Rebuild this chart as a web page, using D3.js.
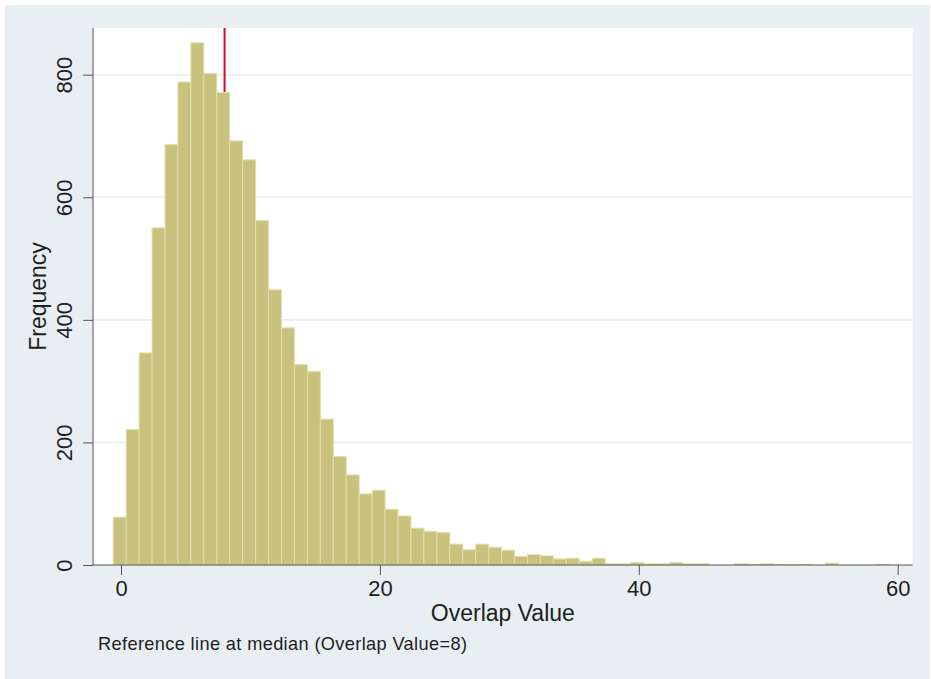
<!DOCTYPE html>
<html>
<head>
<meta charset="utf-8">
<script src="https://cdn.jsdelivr.net/npm/d3@7"></script>
<style>
  body { margin: 0; background: #fff; }
  text { font-family: "Liberation Sans", Arial, sans-serif; fill: #1e1e1e; }
</style>
</head>
<body>
<svg id="chart" width="931" height="679"></svg>
<script>
// histogram of overlap values, bins of width 1 starting at -0.6
const binStart = -0.6;
const binWidth = 1.0;
const counts = [
  78, 221, 346, 550, 686, 788, 852, 802, 771, 692,
  661, 562, 449, 387, 327, 316, 238, 177, 147, 116,
  122, 91, 80, 60, 55, 53, 34, 25, 34, 29,
  24, 14, 17, 15, 10, 11, 6, 11, 2, 2,
  4, 2, 2, 4, 2, 2, 0, 0, 2, 1,
  2, 1, 1, 1, 0, 3, 0, 0, 0, 1
];
const xTicks = [0, 20, 40, 60];
const yTicks = [0, 200, 400, 600, 800];
const medianValue = 8;
const xTitle = "Overlap Value";
const yTitle = "Frequency";
const note = "Reference line at median (Overlap Value=8)";

const svg = d3.select("#chart");
const plot = {left: 93, right: 912.7, top: 28, bottom: 565};

const x = d3.scaleLinear().domain([0, 60]).range([121, 897.7]);
const y = d3.scaleLinear().domain([0, 800]).range([565, 74.7]);

const bins = counts.map((c, i) => ({x0: binStart + i * binWidth, x1: binStart + (i + 1) * binWidth, n: c}));

// outer background
svg.append("rect")
  .attr("x", 5).attr("y", 5)
  .attr("width", 925).attr("height", 674)
  .attr("fill", "#e8eff2");

// plot region
svg.append("rect")
  .attr("x", plot.left).attr("y", plot.top)
  .attr("width", plot.right - plot.left).attr("height", plot.bottom - plot.top)
  .attr("fill", "#ffffff");

// gridlines
svg.append("g")
  .selectAll("line")
  .data(yTicks.filter(d => d > 0))
  .join("line")
  .attr("x1", plot.left).attr("x2", plot.right)
  .attr("y1", d => y(d)).attr("y2", d => y(d))
  .attr("stroke", "#e6eef2")
  .attr("stroke-width", 1.6);

// median reference line (behind bars)
svg.append("line")
  .attr("x1", x(medianValue)).attr("x2", x(medianValue))
  .attr("y1", plot.top).attr("y2", y(0))
  .attr("stroke", "#c8102e")
  .attr("stroke-width", 2);

// bars
svg.append("g")
  .selectAll("rect")
  .data(bins)
  .join("rect")
  .attr("x", d => x(d.x0))
  .attr("width", d => x(d.x1) - x(d.x0))
  .attr("y", d => y(d.n))
  .attr("height", d => y(0) - y(d.n))
  .attr("fill", "#c9c27f")
  .attr("stroke", "#e3dfaa")
  .attr("stroke-width", 1);

// y axis
const yAxis = svg.append("g")
  .attr("transform", `translate(${plot.left},0)`)
  .call(d3.axisLeft(y).tickValues(yTicks).tickSize(10).tickPadding(4));
yAxis.select(".domain").attr("d", `M0,${plot.top}V${plot.bottom}`).attr("stroke", "#555");
yAxis.selectAll(".tick line").attr("stroke", "#555");
yAxis.selectAll(".tick text")
  .attr("font-size", 22)
  .attr("text-anchor", "middle")
  .attr("transform", "rotate(-90)")
  .attr("x", 0)
  .attr("y", -21)
  .attr("dy", 0);

// x axis
const xAxis = svg.append("g")
  .attr("transform", `translate(0,${plot.bottom})`)
  .call(d3.axisBottom(x).tickValues(xTicks).tickSize(10).tickPadding(5));
xAxis.select(".domain").attr("d", `M${plot.left},0H${plot.right}`).attr("stroke", "#555");
xAxis.selectAll(".tick line").attr("stroke", "#555");
xAxis.selectAll(".tick text")
  .attr("font-size", 22)
  .attr("y", 31)
  .attr("dy", 0);

svg.selectAll(".tick text").style("font-family", "'Liberation Sans', Arial, sans-serif").attr("fill", "#1e1e1e");

// titles
svg.append("text")
  .attr("x", (plot.left + plot.right) / 2)
  .attr("y", 621)
  .attr("text-anchor", "middle")
  .attr("font-size", 23)
  .text(xTitle);

svg.append("text")
  .attr("transform", `translate(46,${(plot.top + plot.bottom) / 2}) rotate(-90)`)
  .attr("text-anchor", "middle")
  .attr("font-size", 23)
  .text(yTitle);

svg.append("text")
  .attr("x", 98)
  .attr("y", 650)
  .attr("font-size", 18.2)
  .attr("textLength", 369)
  .attr("lengthAdjust", "spacing")
  .text(note);
</script>
</body>
</html>
